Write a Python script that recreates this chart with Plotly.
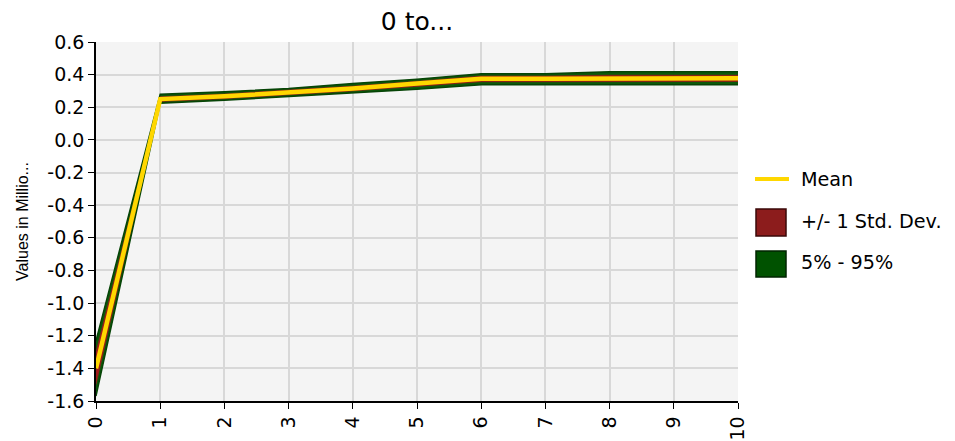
import plotly.graph_objects as go

# ---- data ----
steps = [0, 1, 2, 3, 4, 5, 6, 7, 8, 9, 10]
mean_vals = [-1.40, 0.250, 0.267, 0.290, 0.315, 0.345, 0.375, 0.375, 0.378, 0.378, 0.378]
sd_upper = [-1.30, 0.265, 0.282, 0.305, 0.330, 0.360, 0.392, 0.392, 0.397, 0.397, 0.397]
sd_lower = [-1.50, 0.235, 0.252, 0.275, 0.300, 0.328, 0.356, 0.356, 0.358, 0.358, 0.358]
p95_vals = [-1.23, 0.280, 0.295, 0.315, 0.345, 0.372, 0.405, 0.405, 0.418, 0.418, 0.418]
p5_vals = [-1.57, 0.225, 0.243, 0.265, 0.285, 0.310, 0.338, 0.338, 0.338, 0.338, 0.338]
y_ticks = [0.6, 0.4, 0.2, 0.0, -0.2, -0.4, -0.6, -0.8, -1.0, -1.2, -1.4, -1.6]
title_text = "0 to..."
y_title = "Values in Millio..."
legend_labels = ["Mean", "+/- 1 Std. Dev.", "5% - 95%"]

GREEN = "#0a5a0a"
GREEN_EDGE = "#064406"
RED = "#a01a1a"
YELLOW = "#FFD700"

fig = go.Figure()
fig.add_trace(go.Scatter(x=steps, y=p95_vals, mode="lines",
                         line=dict(color=GREEN_EDGE, width=1.5), showlegend=False, hoverinfo="skip"))
fig.add_trace(go.Scatter(x=steps, y=p5_vals, mode="lines", fill="tonexty", fillcolor=GREEN,
                         line=dict(color=GREEN_EDGE, width=1.5), showlegend=False, hoverinfo="skip"))
fig.add_trace(go.Scatter(x=steps, y=sd_upper, mode="lines",
                         line=dict(color=RED, width=0.5), showlegend=False, hoverinfo="skip"))
fig.add_trace(go.Scatter(x=steps, y=sd_lower, mode="lines", fill="tonexty", fillcolor=RED,
                         line=dict(color=RED, width=0.5), showlegend=False, hoverinfo="skip"))
fig.add_trace(go.Scatter(x=steps, y=mean_vals, mode="lines",
                         line=dict(color=YELLOW, width=4.5), showlegend=False))

# the page body adds an 8px margin; work in screen pixels and subtract it
OFF = 8
W, H = 955 - OFF, 441 - OFF
L, R, T, B = 96 - OFF, 738 - OFF, 42 - OFF, 401 - OFF


def px(xp):
    return (xp - OFF - L) / (R - L)


def py(yp):
    return (B - (yp - OFF)) / (B - T)


shapes = [
    dict(type="line", xref="paper", yref="paper", x0=px(755), x1=px(789), y0=py(179), y1=py(179),
         line=dict(color=YELLOW, width=4)),
    dict(type="rect", xref="paper", yref="paper", x0=px(756), x1=px(786), y0=py(236), y1=py(209),
         fillcolor="#8c1c1c", line=dict(color="#3a0808", width=1.5)),
    dict(type="rect", xref="paper", yref="paper", x0=px(756), x1=px(786), y0=py(277), y1=py(251),
         fillcolor="#005200", line=dict(color="#002400", width=1.5)),
]
annotations = []
for lab, yy in zip(legend_labels, [179, 221, 262]):
    annotations.append(dict(text=lab, xref="paper", yref="paper", x=px(799), y=py(yy),
                            xanchor="left", yanchor="middle", showarrow=False,
                            font=dict(family="DejaVu Sans", size=19.2, color="#000")))

fig.update_layout(
    width=W, height=H,
    margin=dict(l=L, r=W - R, t=T, b=H - B, autoexpand=False),
    paper_bgcolor="white",
    plot_bgcolor="#f4f4f4",
    title=dict(text=title_text, x=(L + R) / 2 / W, xanchor="center", y=1, yanchor="top",
               pad=dict(t=4),
               font=dict(family="DejaVu Sans", size=25, color="#000")),
    showlegend=False,
    shapes=shapes,
    annotations=annotations,
    xaxis=dict(range=[0, 10], tickmode="array", tickvals=steps, ticktext=[str(s) for s in steps],
               tickangle=-90, ticks="outside", ticklen=6, tickcolor="#000", automargin=False,
               showline=True, linecolor="#000", linewidth=1.5,
               showgrid=True, gridcolor="#d8d8d8", gridwidth=1.5, zeroline=False,
               tickfont=dict(family="DejaVu Sans", size=19, color="#000")),
    yaxis=dict(range=[-1.6, 0.6], tickmode="array", tickvals=y_ticks,
               ticktext=[f"{v:.1f}" for v in y_ticks], automargin=False,
               ticks="outside", ticklen=6, tickcolor="#000",
               showline=True, linecolor="#000", linewidth=1.5,
               showgrid=True, gridcolor="#d8d8d8", gridwidth=1.5, zeroline=False,
               tickfont=dict(family="DejaVu Sans", size=19, color="#000"),
               title=dict(text=y_title, font=dict(family="Liberation Sans", size=16, color="#000"))),
)

fig.write_html("out.html")
